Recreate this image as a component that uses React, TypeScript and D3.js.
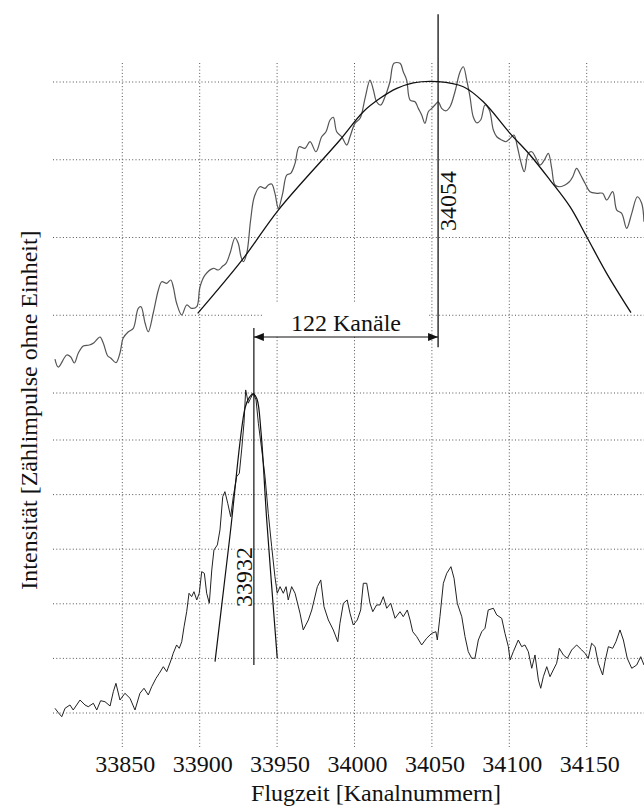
import React, { useEffect } from "react";
import * as d3 from "d3";

// channel ticks on the x axis
const xTicks = [33850, 33900, 33950, 34000, 34050, 34100, 34150];
// grid levels (counts without unit) for the two traces
const upperGrid = [100, 200, 300, 400, 500];
const lowerGrid = [100, 200, 300, 400, 500, 600];

// broad upper spectrum [channel, counts]
const upperTrace: [number, number][] = [
  [33806.5, 143.7], [33808.7, 133.4], [33814.1, 148.9], [33816.7, 146.3], [33819.0, 138.6],
  [33821.6, 151.4], [33824.8, 160.4], [33828.7, 161.7], [33831.7, 164.7], [33835.6, 172.0],
  [33837.7, 164.3], [33840.6, 147.6], [33842.5, 145.0], [33845.9, 139.0], [33848.5, 151.4],
  [33850.6, 170.7], [33853.9, 178.8], [33857.1, 183.2], [33860.3, 208.9], [33862.1, 211.0],
  [33864.7, 190.0], [33866.8, 178.8], [33870.0, 202.9], [33873.3, 232.5], [33875.5, 243.1],
  [33878.7, 241.1], [33881.3, 245.3], [33882.9, 236.7], [33885.1, 215.4], [33888.4, 200.3],
  [33891.6, 213.2], [33894.8, 208.9], [33898.1, 211.0], [33900.2, 236.7], [33903.4, 251.7],
  [33908.8, 260.4], [33912.0, 258.2], [33914.9, 263.3], [33917.0, 266.8], [33919.6, 279.7],
  [33922.8, 299.7], [33924.9, 292.5], [33926.7, 275.3], [33928.2, 268.9], [33930.4, 279.7],
  [33932.9, 322.5], [33935.3, 352.4], [33938.9, 365.3], [33942.2, 363.2], [33944.3, 367.5],
  [33946.5, 368.8], [33948.6, 356.8], [33950.8, 337.5], [33953.6, 356.8], [33956.2, 380.3],
  [33958.8, 382.5], [33961.6, 395.4], [33964.3, 416.7], [33968.0, 414.7], [33971.3, 423.2],
  [33975.1, 410.3], [33978.8, 429.6], [33981.6, 436.0], [33984.2, 451.1], [33986.3, 454.6],
  [33988.5, 436.0], [33991.7, 429.6], [33995.0, 418.9], [33997.1, 429.6], [34000.3, 446.8],
  [34003.6, 453.3], [34006.8, 479.0], [34010.0, 502.5], [34012.2, 489.7], [34014.3, 474.6],
  [34016.9, 470.4], [34019.7, 481.0], [34022.9, 500.3], [34025.5, 524.0], [34029.4, 524.0],
  [34031.5, 513.2], [34033.7, 502.5], [34035.9, 476.8], [34039.1, 474.6], [34041.2, 466.1],
  [34043.4, 457.5], [34045.5, 446.8], [34047.7, 461.8], [34049.9, 466.1], [34052.0, 470.4],
  [34054.1, 474.6], [34056.3, 466.1], [34059.1, 463.0], [34061.7, 468.2], [34064.9, 487.5],
  [34068.2, 513.2], [34070.3, 519.6], [34072.5, 502.5], [34074.6, 481.0], [34076.7, 455.3],
  [34078.9, 447.6], [34081.5, 451.1], [34084.3, 470.4], [34087.1, 463.9], [34089.7, 438.2],
  [34091.9, 429.6], [34095.1, 425.4], [34097.9, 423.2], [34100.5, 427.5], [34103.0, 431.8],
  [34105.2, 416.7], [34107.4, 397.5], [34109.7, 384.6], [34112.3, 408.3], [34114.5, 410.3],
  [34117.3, 401.8], [34119.8, 393.2], [34122.6, 399.6], [34125.2, 408.3], [34127.4, 389.0],
  [34129.5, 367.5], [34132.8, 365.3], [34136.0, 367.5], [34138.8, 371.7], [34141.0, 378.2],
  [34143.5, 389.0], [34146.1, 380.3], [34148.9, 369.7], [34152.1, 358.9], [34156.5, 356.8],
  [34160.3, 356.8], [34162.9, 348.2], [34166.8, 358.9], [34169.4, 335.3], [34172.6, 331.1],
  [34175.8, 311.8], [34179.1, 331.1], [34182.7, 352.4], [34185.5, 344.0], [34187.0, 320.3],
];

// gaussian fit of the upper spectrum
const upperFit: [number, number][] = [
  [33898.7, 202.5], [33928.2, 273.2], [33950.8, 335.3], [33990.6, 425.4], [34005.7, 461.8],
  [34016.5, 479.0], [34027.3, 491.8], [34038.0, 499.0], [34054.0, 500.5], [34070.3, 493.9],
  [34083.2, 474.6], [34100.5, 434.0], [34113.4, 406.1], [34126.3, 373.9], [34139.2, 339.6],
  [34150.0, 301.0], [34162.9, 253.9], [34178.6, 203.3],
];

// narrow lower spectrum [channel, counts]
const lowerTrace: [number, number][] = [
  [33806.5, 108.6], [33808.7, 100.5], [33810.9, 93.2], [33813.0, 108.6], [33816.2, 114.7],
  [33818.3, 105.5], [33822.7, 123.8], [33825.9, 114.7], [33828.0, 111.5], [33831.3, 117.8],
  [33833.5, 105.5], [33836.0, 122.5], [33838.8, 120.7], [33842.1, 112.8], [33844.2, 139.0],
  [33845.9, 154.4], [33848.5, 123.8], [33851.7, 136.1], [33855.0, 126.9], [33858.2, 105.5],
  [33861.4, 136.1], [33864.0, 145.3], [33866.8, 133.0], [33869.0, 148.2], [33871.8, 163.6],
  [33873.9, 172.7], [33876.5, 184.8], [33878.7, 175.7], [33881.5, 197.1], [33882.9, 209.4],
  [33885.1, 224.6], [33886.8, 218.5], [33888.4, 230.6], [33889.9, 258.1], [33891.6, 285.6],
  [33893.1, 319.3], [33894.8, 313.1], [33896.3, 322.2], [33898.1, 307.0], [33899.7, 319.3],
  [33901.3, 358.9], [33903.0, 355.9], [33904.5, 319.3], [33906.2, 301.0], [33907.8, 362.0],
  [33909.2, 398.6], [33911.4, 407.8], [33913.1, 435.3], [33914.9, 496.3], [33916.3, 505.4],
  [33918.1, 484.2], [33920.0, 459.6], [33921.7, 496.3], [33923.9, 532.9], [33925.6, 539.1],
  [33927.1, 581.8], [33928.6, 630.7], [33929.7, 691.7], [33931.4, 667.4], [33932.9, 676.5],
  [33934.6, 685.7], [33936.4, 673.4], [33937.9, 630.7], [33940.1, 581.8], [33942.2, 532.9],
  [33944.3, 465.8], [33946.5, 404.7], [33948.6, 349.7], [33950.1, 319.3], [33951.9, 331.4],
  [33954.0, 319.3], [33955.8, 331.4], [33957.2, 307.0], [33959.4, 331.4], [33961.6, 319.3],
  [33964.8, 282.7], [33966.9, 252.1], [33970.2, 270.4], [33972.4, 288.7], [33976.0, 331.4],
  [33978.2, 343.7], [33980.3, 294.7], [33983.1, 270.4], [33986.3, 252.1], [33989.2, 230.6],
  [33990.6, 264.3], [33992.8, 301.0], [33995.3, 307.0], [33997.1, 282.7], [33999.2, 261.2],
  [34001.8, 270.4], [34004.0, 288.7], [34005.7, 337.6], [34007.9, 337.6], [34010.0, 301.0],
  [34011.8, 285.6], [34014.3, 297.9], [34016.5, 297.9], [34018.6, 313.1], [34020.8, 291.8],
  [34023.4, 301.0], [34026.2, 273.5], [34029.4, 285.6], [34031.5, 276.4], [34034.1, 288.7],
  [34035.9, 270.4], [34037.6, 248.9], [34040.2, 239.8], [34043.4, 224.6], [34046.6, 236.9],
  [34049.9, 246.0], [34052.6, 248.9], [34053.5, 233.7], [34055.2, 276.4], [34057.4, 337.6],
  [34059.6, 355.9], [34062.3, 368.0], [34064.3, 346.8], [34066.4, 301.0], [34069.3, 276.4],
  [34071.4, 239.8], [34073.5, 212.3], [34075.7, 200.2], [34077.8, 200.2], [34080.0, 233.7],
  [34082.2, 248.9], [34084.3, 255.2], [34086.4, 288.7], [34089.7, 291.8], [34091.9, 279.5],
  [34095.1, 273.5], [34097.2, 246.0], [34099.4, 221.5], [34100.5, 197.1], [34102.6, 212.3],
  [34105.8, 233.7], [34108.0, 221.5], [34110.1, 224.6], [34112.3, 212.3], [34114.5, 181.9],
  [34116.6, 206.3], [34118.8, 160.5], [34120.3, 145.3], [34122.0, 166.5], [34124.2, 184.8],
  [34126.3, 166.5], [34128.4, 178.8], [34130.6, 191.1], [34132.3, 218.5], [34134.9, 206.3],
  [34137.5, 200.2], [34140.3, 215.4], [34143.5, 224.6], [34146.8, 215.4], [34148.9, 209.4],
  [34151.0, 200.2], [34153.2, 227.7], [34155.4, 221.5], [34157.5, 191.1], [34160.3, 169.6],
  [34161.8, 194.0], [34164.0, 221.5], [34166.8, 218.5], [34168.9, 230.6], [34171.5, 252.1],
  [34173.7, 233.7], [34176.2, 200.2], [34179.1, 181.9], [34182.3, 187.9], [34184.9, 203.1],
  [34187.0, 187.9],
];

// gaussian fit of the lower peak
const lowerFit: [number, number][] = [
  [33909.9, 194.0], [33919.6, 426.1], [33929.3, 658.8], [33931.9, 677.1], [33934.6, 684.4],
  [33937.0, 675.2], [33939.6, 614.8], [33943.3, 453.6], [33950.1, 200.2],
];

// peak markers: channel as drawn, label text, marker extent (counts)
const upperPeak = { channel: 34054, label: "34054", from: 587, to: 159 };
const lowerPeak = { channel: 33935, label: "33932", from: 805, to: 188 };
const distanceLabel = "122 Kanäle";
const arrowLevel = 172; // upper counts

const W = 644;
const H = 808;
const txt = { fontFamily: "Liberation Serif", fontSize: 24, fill: "#111" };

const App = () => {
  useEffect(() => {
    document.body.style.margin = "0";
  }, []);

  const x = d3.scaleLinear().domain([33850, 34150]).range([122.3, 586.7]);
  const yUp = d3.scaleLinear().domain([100, 500]).range([393, 82]);
  const yLo = d3.scaleLinear().domain([100, 600]).range([713, 440]);

  const makeLine = (y: d3.ScaleLinear<number, number>, curve: d3.CurveFactory) =>
    d3.line<[number, number]>().x((d) => x(d[0])).y((d) => y(d[1])).curve(curve);

  const upperPath = makeLine(yUp, d3.curveCatmullRom)(upperTrace) || "";
  const lowerPath = makeLine(yLo, d3.curveLinear)(lowerTrace) || "";
  const upperFitPath = makeLine(yUp, d3.curveCatmullRom)(upperFit) || "";
  const lowerFitPath = makeLine(yLo, d3.curveCatmullRom)(lowerFit) || "";

  const grid = { stroke: "#555", strokeWidth: 1, strokeDasharray: "1 2.3" };
  const gridLeft = 53;
  const gridTop = 63;
  const gridBottom = 747;

  const xu = x(upperPeak.channel);
  const xl = x(lowerPeak.channel);
  const ay = yUp(arrowLevel);
  const mid = (xu + xl) / 2;

  return (
    <svg width={W} height={H} style={{ display: "block", background: "#fff" }}>
      <defs>
        <marker id="ah" viewBox="0 0 10 8" refX="10" refY="4" markerWidth="10" markerHeight="8"
          markerUnits="userSpaceOnUse" orient="auto-start-reverse">
          <path d="M0,0 L10,4 L0,8 Z" fill="#111" />
        </marker>
      </defs>

      {/* grid */}
      {xTicks.map((t) => (
        <line key={"v" + t} x1={x(t)} x2={x(t)} y1={gridTop} y2={gridBottom} {...grid} />
      ))}
      {upperGrid.map((v) => (
        <line key={"u" + v} x1={gridLeft} x2={W} y1={yUp(v)} y2={yUp(v)} {...grid} />
      ))}
      {lowerGrid.map((v) => (
        <line key={"l" + v} x1={gridLeft} x2={W} y1={yLo(v)} y2={yLo(v)} {...grid} />
      ))}

      {/* spectra */}
      <path d={upperPath} fill="none" stroke="#555" strokeWidth={1.2} />
      <path d={lowerPath} fill="none" stroke="#222" strokeWidth={1} />

      {/* fits */}
      <path d={upperFitPath} fill="none" stroke="#111" strokeWidth={1.3} />
      <path d={lowerFitPath} fill="none" stroke="#111" strokeWidth={1.2} />

      {/* peak markers */}
      <line x1={xu} x2={xu} y1={yUp(upperPeak.from)} y2={yUp(upperPeak.to)} stroke="#111" strokeWidth={1.3} />
      <line x1={xl} x2={xl} y1={yLo(lowerPeak.from)} y2={yLo(lowerPeak.to)} stroke="#111" strokeWidth={1.2} />

      <text transform={`translate(${xu + 18},${yUp(347)}) rotate(-90)`} textAnchor="middle" style={txt}>
        {upperPeak.label}
      </text>
      <rect x={xl - 19} y={yLo(349) - 31} width={17} height={62} fill="#fff" />
      <text transform={`translate(${xl - 2},${yLo(349)}) rotate(-90)`} textAnchor="middle" style={txt}>
        {lowerPeak.label}
      </text>

      {/* distance */}
      <rect x={mid - 83.5} y={ay - 34} width={166} height={32} fill="#fff" />
      <line x1={xl} x2={xu} y1={ay} y2={ay} stroke="#111" strokeWidth={1.2}
        markerStart="url(#ah)" markerEnd="url(#ah)" />
      <text x={mid} y={ay - 6} textAnchor="middle" style={txt}>{distanceLabel}</text>

      {/* axis labels */}
      {xTicks.map((t) => (
        <text key={"t" + t} x={x(t) + 3} y={772} textAnchor="middle" style={txt}>{t}</text>
      ))}
      <text x={376} y={801} textAnchor="middle" style={txt}>Flugzeit [Kanalnummern]</text>
      <text transform="translate(37,410) rotate(-90)" textAnchor="middle" style={txt}>
        Intensität [Zählimpulse ohne Einheit]
      </text>
    </svg>
  );
};

export default App;
